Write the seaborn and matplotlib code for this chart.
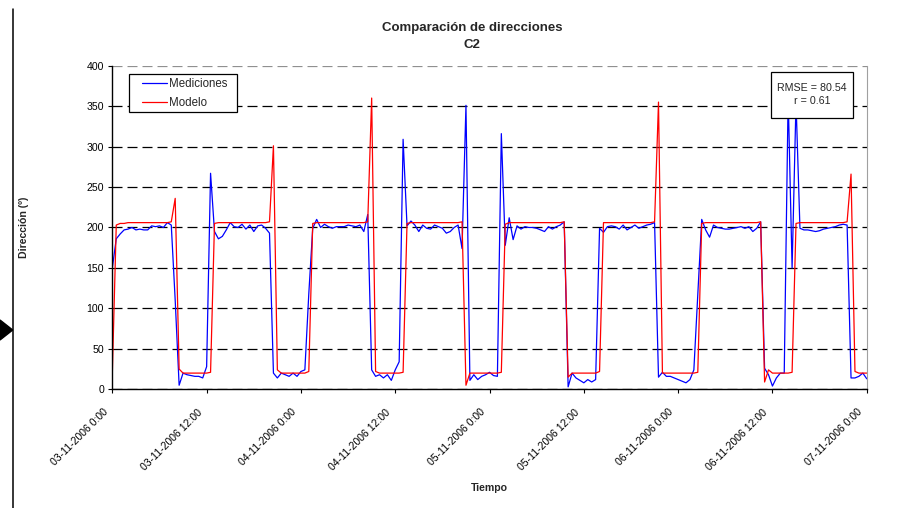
import pandas as pd
import matplotlib.pyplot as plt
from matplotlib.lines import Line2D
from matplotlib.patches import Polygon, Rectangle
from matplotlib.transforms import ScaledTranslation
import seaborn as sns

# half-hourly samples, 03-11-2006 0:00 to 07-11-2006 0:00
mediciones = [
    150, 186, 192, 197, 198, 200, 197, 198, 197, 197, 202, 201,
    202, 200, 206, 203, 110, 5, 20, 18, 17, 16, 16, 14,
    28, 267, 195, 186, 189, 197, 206, 201, 200, 204, 198, 203,
    195, 202, 203, 199, 193, 20, 14, 20, 18, 16, 20, 16,
    22, 24, 118, 199, 210, 200, 204, 201, 199, 201, 201, 201,
    203, 202, 201, 203, 195, 216, 24, 16, 18, 14, 18, 11,
    24, 34, 309, 202, 208, 203, 195, 203, 199, 198, 203, 201,
    199, 193, 195, 200, 203, 174, 351, 11, 18, 12, 16, 18,
    21, 17, 16, 316, 178, 212, 185, 202, 198, 201, 200, 200,
    199, 197, 195, 201, 198, 201, 203, 207, 3, 20, 14, 11,
    8, 12, 9, 12, 199, 194, 201, 202, 201, 198, 203, 197,
    200, 203, 199, 201, 203, 204, 206, 15, 21, 16, 16, 14,
    12, 10, 8, 12, 24, 118, 210, 197, 188, 203, 200, 199,
    198, 198, 199, 200, 201, 199, 201, 195, 199, 207, 26, 18,
    4, 14, 20, 20, 362, 150, 355, 199, 197, 197, 196, 195,
    196, 198, 199, 200, 201, 203, 204, 203, 14, 14, 16, 20,
    13,
]

modelo = [
    20, 203, 205, 205, 206, 206, 206, 206, 206, 206, 206, 206,
    206, 206, 206, 207, 236, 25, 20, 20, 20, 20, 20, 20,
    20, 21, 205, 206, 206, 206, 206, 206, 206, 206, 206, 206,
    206, 206, 206, 206, 207, 301, 24, 20, 20, 20, 20, 20,
    20, 20, 22, 205, 206, 206, 206, 206, 206, 206, 206, 206,
    206, 206, 206, 206, 206, 207, 360, 22, 20, 20, 20, 20,
    20, 20, 21, 205, 206, 206, 206, 206, 206, 206, 206, 206,
    206, 206, 206, 206, 206, 207, 5, 20, 20, 20, 20, 20,
    20, 20, 20, 21, 204, 206, 206, 206, 206, 206, 206, 206,
    206, 206, 206, 206, 206, 206, 206, 207, 15, 20, 20, 20,
    20, 20, 20, 20, 22, 206, 206, 206, 206, 206, 206, 206,
    206, 206, 206, 206, 206, 206, 207, 355, 20, 20, 20, 20,
    20, 20, 20, 20, 20, 21, 205, 206, 206, 206, 206, 206,
    206, 206, 206, 206, 206, 206, 206, 206, 206, 207, 9, 24,
    20, 20, 20, 20, 20, 21, 205, 206, 206, 206, 206, 206,
    206, 206, 206, 206, 206, 206, 206, 207, 266, 22, 20, 20,
    20,
]

tick_labels = ["03-11-2006 0:00", "03-11-2006 12:00", "04-11-2006 0:00",
               "04-11-2006 12:00", "05-11-2006 0:00", "05-11-2006 12:00",
               "06-11-2006 0:00", "06-11-2006 12:00", "07-11-2006 0:00"]

n = len(mediciones)
times = pd.date_range("2006-11-03 00:00", periods=n, freq="30min")
tick_pos = pd.date_range("2006-11-03 00:00", periods=len(tick_labels), freq="12h")

df = pd.DataFrame({
    "Tiempo": list(times) * 2,
    "Direccion": mediciones + modelo,
    "Serie": ["Mediciones"] * n + ["Modelo"] * n,
})

sns.set_theme(style="white")
plt.rcParams["font.family"] = ["Liberation Sans", "DejaVu Sans"]

W, H = 917, 508
fig = plt.figure(figsize=(W / 100, H / 100), dpi=100)
ax = fig.add_axes([0.1225, 0.2337, 0.8227, 0.637])

sns.lineplot(data=df, x="Tiempo", y="Direccion", hue="Serie",
             hue_order=["Mediciones", "Modelo"],
             palette={"Mediciones": "#0000FF", "Modelo": "#FF0000"},
             estimator=None, linewidth=0.9, ax=ax)

ax.set_xlim(times[0], times[-1])
ax.set_ylim(0, 400)
ax.set_yticks(range(0, 401, 50))
ax.set_xticks(tick_pos)
ax.set_xticklabels(tick_labels, rotation=45, ha="right", rotation_mode="anchor")

ax.tick_params(axis="both", labelsize=7.6, colors="black", direction="out",
               length=3, width=0.8)
ax.tick_params(axis="x", pad=4)
ax.tick_params(axis="y", pad=3)
ax.tick_params(left=True, bottom=True)

# push the slanted date labels down-left, as in the original chart
shift = ScaledTranslation(-7 / 72, -5.8 / 72, fig.dpi_scale_trans)
for lab in ax.get_xticklabels():
    lab.set_transform(lab.get_transform() + shift)

ax.yaxis.grid(True, color="black", linestyle=(0, (8, 4)), linewidth=0.9)
ax.get_ygridlines()[-1].set_color("#909090")
ax.xaxis.grid(False)

for side in ["left", "bottom"]:
    ax.spines[side].set_color("black")
    ax.spines[side].set_linewidth(1.0)
ax.spines["top"].set_visible(False)
ax.spines["right"].set_color("#a0a0a0")
ax.spines["right"].set_linewidth(0.8)

ax.set_xlabel("Tiempo", fontsize=7.6, fontweight="bold")
ax.set_ylabel("Dirección (º)", fontsize=7.6, fontweight="bold")
ax.xaxis.set_label_coords(0.5, -0.29)
ax.yaxis.set_label_coords(-0.1098, 0.5)

# legend: entries without frame, frame drawn as a white box like Excel's
handles, labels = ax.get_legend_handles_labels()
leg = ax.legend(handles, labels, loc="upper left",
                bbox_to_anchor=((141.7 - 112.3) / 754.4, (389.3 - 78.5) / 323.6),
                borderaxespad=0, borderpad=0, fontsize=8.3, frameon=False,
                handlelength=2.17, handletextpad=0.2, labelspacing=0.6)
leg.set_zorder(6)
for h in leg.get_lines():
    h.set_linewidth(0.9)
ax.add_patch(Rectangle(((129 - 112.3) / 754.4, (389.3 - 112) / 323.6),
                       108 / 754.4, 38 / 323.6, transform=ax.transAxes,
                       facecolor="white", edgecolor="black", linewidth=0.9,
                       zorder=5))

ax.add_patch(Rectangle((0.8728, 0.8393), 0.1095, 0.1422, transform=ax.transAxes,
                       facecolor="white", edgecolor="black", linewidth=0.9,
                       zorder=5))
ax.text(0.9275, 0.9104, "RMSE = 80.54\nr = 0.61", transform=ax.transAxes,
        ha="center", va="center", fontsize=7.7, linespacing=1.4, zorder=6)

fig.text(472 / W, 1 - 28 / H, "Comparación de direcciones", ha="center",
         va="center", fontsize=9.5, fontweight="bold")
fig.text(472 / W, 1 - 45 / H, "C2", ha="center", va="center",
         fontsize=9.5, fontweight="bold")

# page edge marks on the left
fig.add_artist(Line2D([12.5 / W, 12.5 / W], [0, 1 - 9 / H],
                      transform=fig.transFigure, color="black", linewidth=1.1))
fig.add_artist(Polygon([(0, 1 - 320 / H), (12.7 / W, 1 - 330 / H),
                        (0, 1 - 340 / H)], closed=True,
                       transform=fig.transFigure, facecolor="black",
                       edgecolor="black"))

fig.savefig("out.png", dpi=100)
